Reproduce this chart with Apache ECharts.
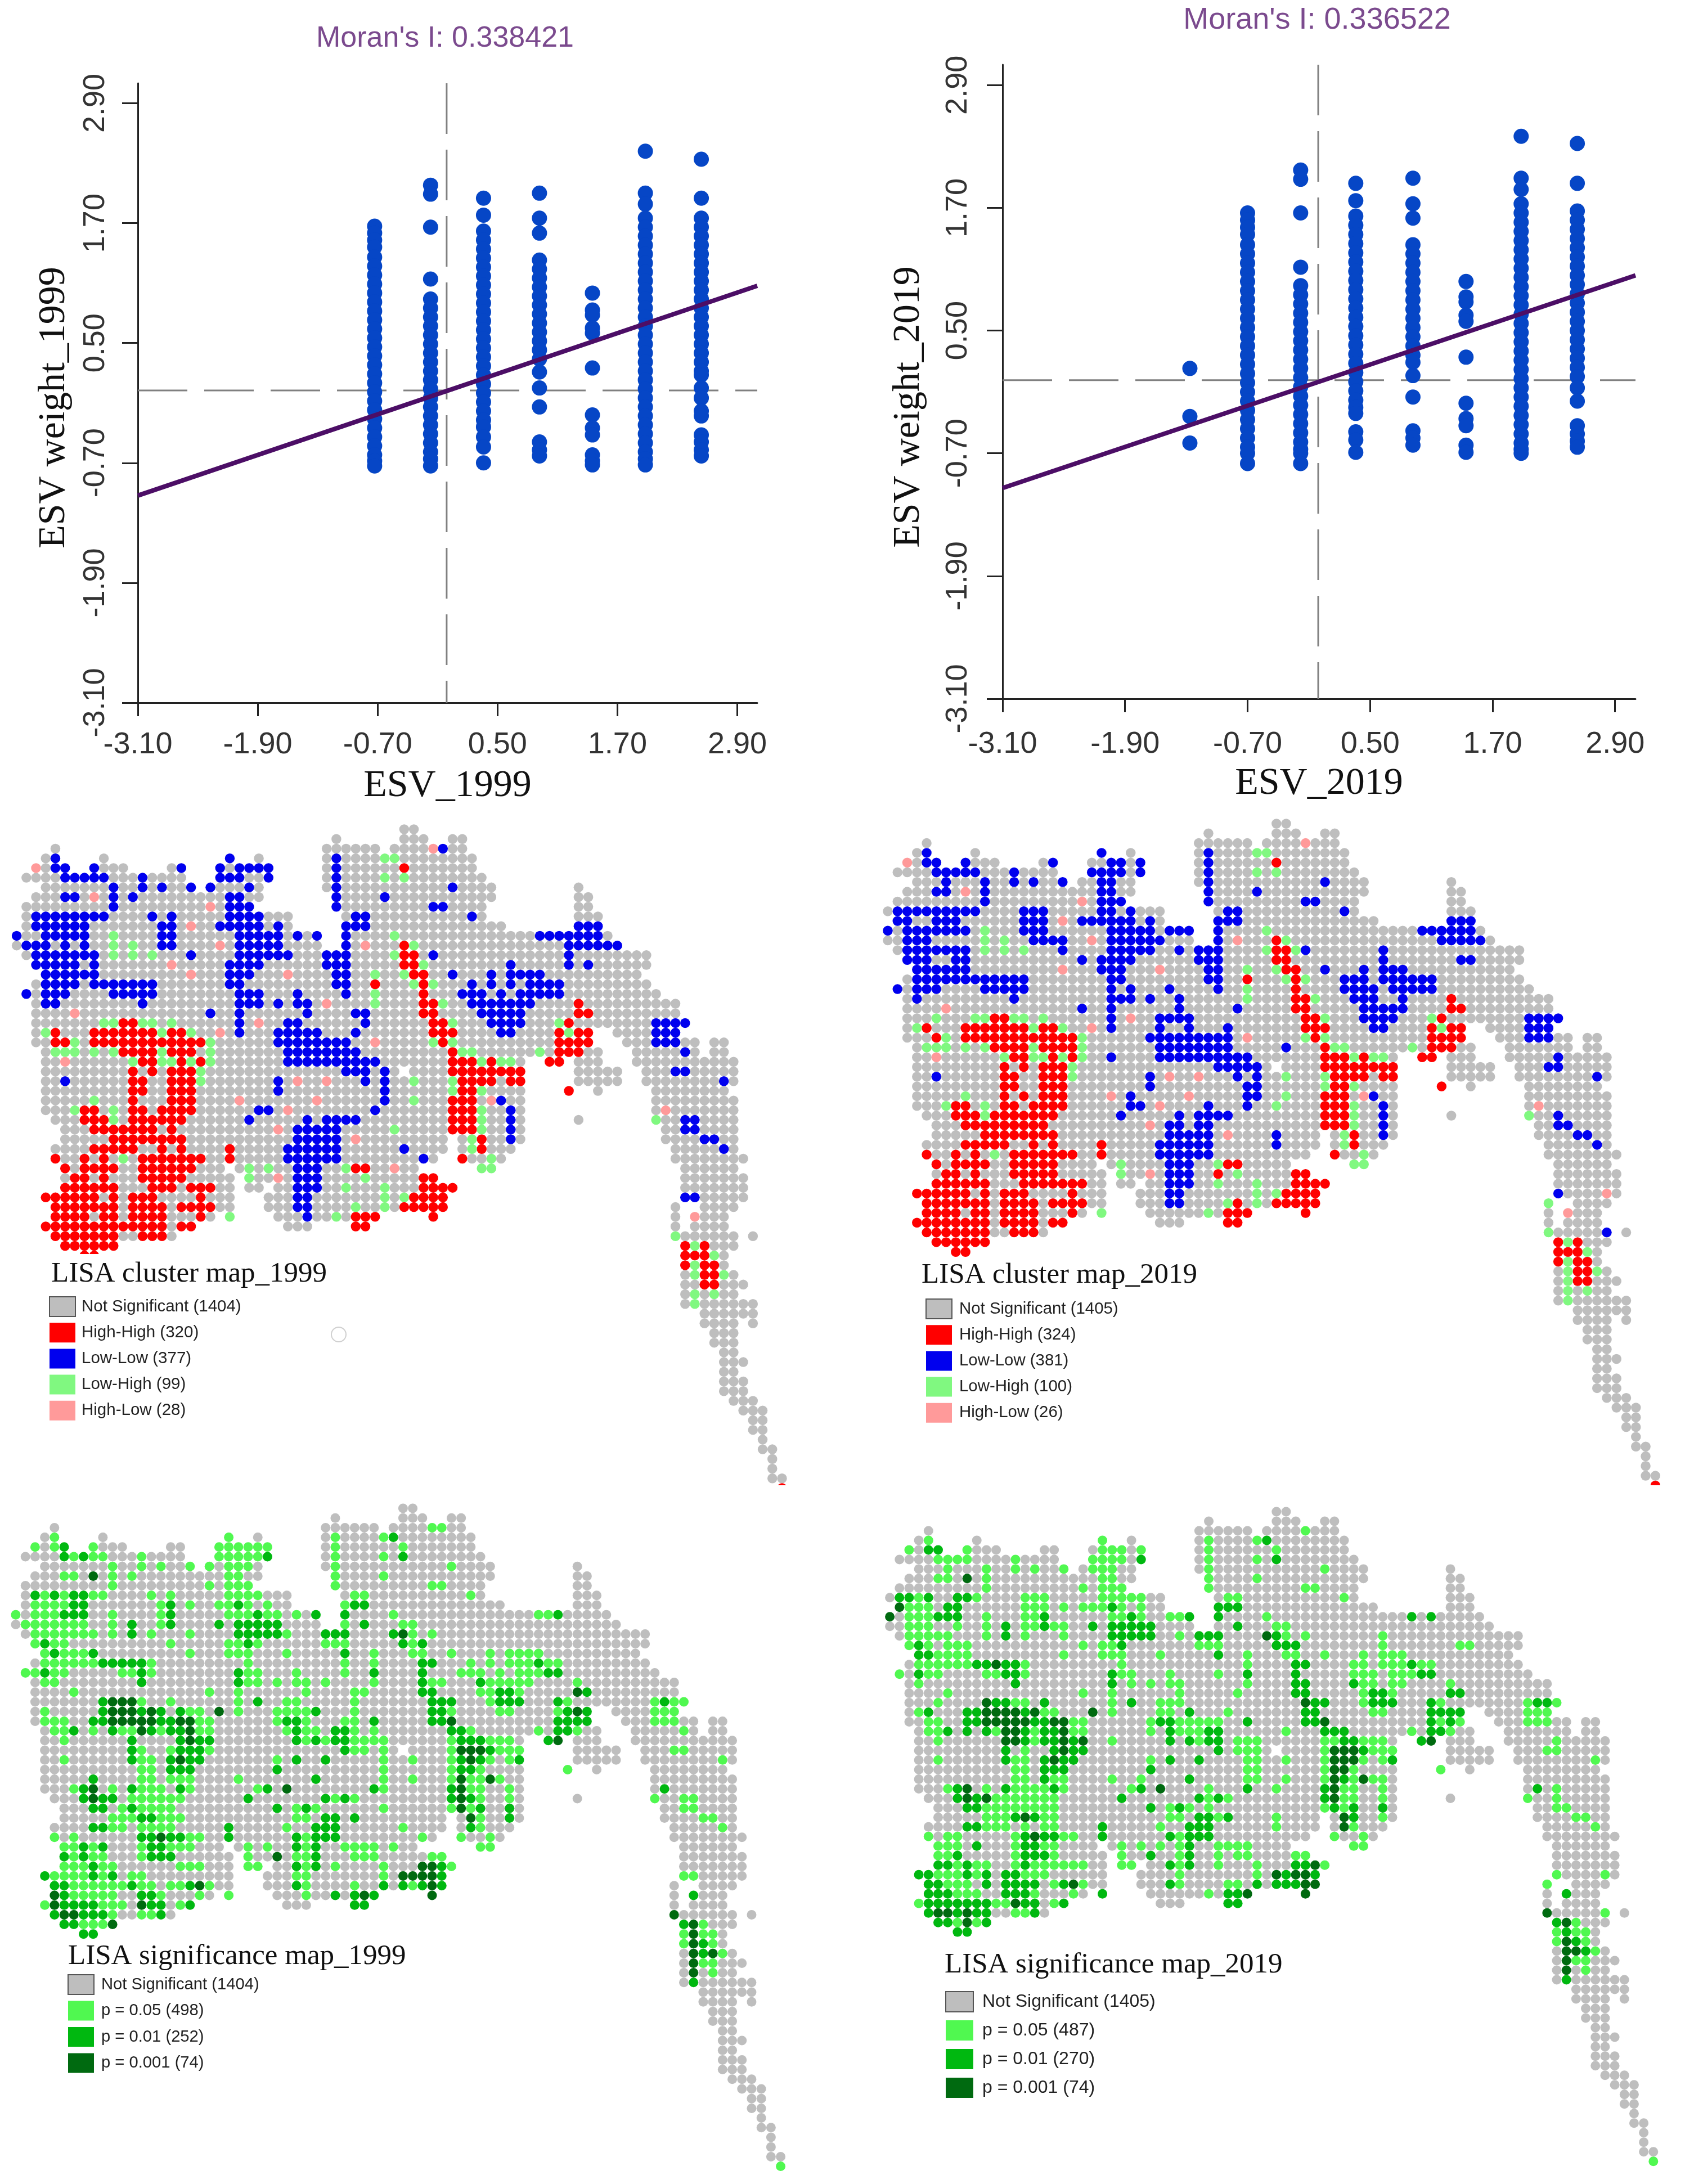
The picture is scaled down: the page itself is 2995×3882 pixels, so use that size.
<!DOCTYPE html>
<html>
<head>
<meta charset="utf-8">
<style>html,body{margin:0;background:#fff}#main{width:2995px;height:3882px}</style>
<script src="https://cdn.jsdelivr.net/npm/echarts@6/dist/echarts.min.js"></script>
</head>
<body>
<div id="main"></div>
<script>
// Moran scatter plots
var tickValues = [-3.1, -1.9, -0.7, 0.5, 1.7, 2.9];
var morans = ["Moran's I: 0.338421", "Moran's I: 0.336522"];
var esv1999 = [
	[-0.73, [1.67,1.6,1.53,1.46,1.36,1.27,1.18,1.09,1,0.91,0.82,0.73,0.64,0.55,0.46,0.37,0.28,0.19,0.1,0.01,-0.08,-0.17,-0.26,-0.35,-0.44,-0.53,-0.62,-0.68,-0.73]],
	[-0.17, [2.08,1.99,1.66,1.14,0.94,0.85,0.76,0.67,0.58,0.49,0.4,0.31,0.22,0.13,0.04,-0.05,-0.14,-0.23,-0.32,-0.41,-0.5,-0.59,-0.66,-0.73]],
	[0.36, [1.95,1.78,1.62,1.53,1.44,1.35,1.26,1.17,1.08,0.99,0.9,0.81,0.72,0.63,0.54,0.45,0.36,0.27,0.18,0.09,0,-0.09,-0.18,-0.27,-0.34,-0.44,-0.54,-0.7]],
	[0.92, [2,1.75,1.6,1.33,1.24,1.15,1.06,0.97,0.88,0.79,0.7,0.61,0.52,0.43,0.34,0.21,0.05,-0.14,-0.49,-0.57,-0.63]],
	[1.45, [1,0.83,0.78,0.65,0.6,0.25,-0.22,-0.35,-0.42,-0.62,-0.68,-0.72]],
	[1.98, [2.42,2,1.89,1.75,1.66,1.57,1.48,1.39,1.3,1.21,1.12,1.03,0.94,0.85,0.76,0.67,0.58,0.49,0.4,0.31,0.22,0.13,0.04,-0.05,-0.14,-0.23,-0.32,-0.41,-0.5,-0.59,-0.66,-0.72]],
	[2.54, [2.34,1.95,1.75,1.66,1.57,1.48,1.39,1.3,1.21,1.12,1.03,0.94,0.85,0.76,0.67,0.58,0.49,0.4,0.31,0.22,0.18,0.05,-0.05,-0.18,-0.23,-0.42,-0.49,-0.57,-0.63]]
];
var esv2019 = [
	[-1.265, [0.13,-0.34,-0.6]],
	[-0.7, [1.65,1.58,1.51,1.44,1.34,1.25,1.16,1.07,0.98,0.89,0.8,0.71,0.62,0.53,0.44,0.35,0.26,0.17,0.08,-0.01,-0.1,-0.19,-0.28,-0.37,-0.46,-0.55,-0.64,-0.7,-0.8]],
	[-0.18, [2.07,1.98,1.65,1.12,0.94,0.85,0.76,0.67,0.58,0.49,0.4,0.31,0.22,0.13,0.04,-0.05,-0.14,-0.23,-0.32,-0.41,-0.5,-0.59,-0.66,-0.7,-0.8]],
	[0.36, [1.94,1.77,1.62,1.53,1.44,1.35,1.26,1.17,1.08,0.99,0.9,0.81,0.72,0.63,0.54,0.45,0.36,0.27,0.18,0.09,0,-0.09,-0.18,-0.25,-0.31,-0.49,-0.57,-0.69]],
	[0.92, [1.99,1.74,1.6,1.34,1.25,1.16,1.07,0.98,0.89,0.8,0.71,0.62,0.53,0.44,0.35,0.26,0.19,0.06,-0.15,-0.48,-0.55,-0.62]],
	[1.44, [0.98,0.83,0.78,0.65,0.59,0.24,-0.21,-0.36,-0.43,-0.62,-0.69]],
	[1.98, [2.4,1.99,1.88,1.74,1.65,1.56,1.47,1.38,1.29,1.2,1.11,1.02,0.93,0.84,0.75,0.66,0.57,0.48,0.39,0.3,0.21,0.12,0.03,-0.06,-0.15,-0.24,-0.33,-0.42,-0.51,-0.6,-0.66,-0.7]],
	[2.53, [2.33,1.94,1.67,1.58,1.49,1.4,1.31,1.22,1.13,1.04,0.95,0.86,0.77,0.68,0.59,0.5,0.41,0.32,0.23,0.14,0.05,-0.06,-0.19,-0.43,-0.51,-0.58,-0.64]]
];
var fit1999 = [[-3.1, -1.027], [3.1, 1.073]];
var fit2019 = [[-3.1, -1.04], [3.1, 1.04]];
var mean1999 = [-0.009, 0.026];
var mean2019 = [-0.008, 0.015];

// grid cells of the study area, row index then column spans
var footprint = [
	"40-41","33 40-42 45-46","4 32-37 39-46","3-4 9 22 25 32-47","2-5 8-11 16-17 21-26 32-47",
	"1-17 21-26 32-48","3-18 20-25 32-49 58","2-25 33-49 58-59","1-24 33-48 58-59","1-28 34-48 58-60",
	"1-28 34-50 58-60","0-31 34-61","0-31 34-62","1-65","2-65",
	"3-64","2-65","1-66","2-68","2-68",
	"2-69","2-59 62-68","2-59 63-70 72-73","3-60 64-70 72-73","3-52 55-56 58-60 64-74",
	"3-39 41-52 58-62 65-74","3-52 58-62 65-74","3-52 57 60 66-73","3-52 66-74","3-52 66-74",
	"4-52 58 66-74","5-52 67-74","5-44 46-52 67-74","4-44 46-51 68-74","4-43 46-50 68-75",
	"5-21 23-41 48-49 69-74","5-22 24-43 69-75","5-22 24-25 27-45 69-75","3-22 26-44 69-75","4-22 26-44 68 71-74",
	"4-20 22 27-37 43 68 70-73","3-18 28-30 35-36 68 70-73","4-16 68-74 76","5-10 69-74","7-8 69-73",
	"69-73","69-74","69-75","69-74","69-76",
	"71-76","71-74 76","72-74","72-74","73-74",
	"73-75","73-74","73-75","73-75","74-76",
	"75-77","76-77","76-77","77","77-78",
	"78","78","78-79","79"
];

// LISA classes per cell, "row: class+columns"
var cluster1999 = [
	"2: P43 B44","3: B4 B22 B33 G38-39","4: P2 B4-5 B8 B17 B21 B23-26 B33 R40","5: B5-9 B13 B21-23 B26 B33 G38 G40",
	"6: B10 B13 B15 B18 B20 B24 B33 B45","7: B5-6 P8 B10 B12 B22-23 B33 B38","8: B10 P20 B22-24 B33 B43-44",
	"9: B2-9 B14 B16 B22-25 B35-36 B47","10: B2-7 B15-16 P18 B21-25 B27 B34-36 B58-60",
	"11: B0 B3-7 G10 B15-16 B23-27 B29 B31 B34 G39 B54-60","12: B1-3 B5 B7 G10 G12 B15-16 P21 B23-27 B34 P36 R40 G41 B57-62",
	"13: B2-8 G10 G12 G14 B18 B23-28 B32-34 G39 R40-41 B43 B57","14: B2-6 B8 P16 B22-25 B32-34 R40-41 G42 B51 B57 B59",
	"15: B3-8 P18 B22-24 P28 B33-34 G37 G40 R41-42 B45 B49 B51-54","16: B3-6 B8-14 B22-23 B33-34 R37 G41 R42 G43 B47 B49 B51 B53-56",
	"17: B1 B3-5 B10-14 B23-25 B29 B34 G37 R42 B46-48 B50 B52-56","18: B3-4 B13 B23-25 B27 B29-30 P32 G37 R42-43 G44 B47-53 R58",
	"19: P6 B20 B23 B30 B35-36 R42-43 B48-52 R58-59","20: G9-10 R11-12 G13-14 G16 B23 P25 B28-29 B36 R43-44 G45 B49-52 G56 R57 B66-69",
	"21: G3 R4 R8-14 G15 R16-17 G18 P21 B23 B27-31 B35 R43-45 B50-51 R56 G57 R58-59 B66-68","22: R4-5 G6 R8-19 G20 B27-34 P37 G43 R44 G45 R56-59 B66-68",
	"23: G4-6 G8 G10 R11-14 G15 R16-18 G20 B28-35 R45 G46-47 G54 R56-58 B69","24: P5 G12 R13-14 G15-16 R17 G18 R19 G20 B28-37 R45-47 G48 R49 G50-51 R55-56",
	"25: R12 R14 R16-18 G19 B34-36 B38 R45-52 B68-69","26: B5 R12-13 R16-18 G19 B27 P29 P32 B36 B38 G41 G45 R46-49 R51-52 B73",
	"27: R12-13 R16-18 B27 B38 G45 R46-47 G48 R57","28: G8 R12 R16-18 P23 P31 B38 G41 R45-47 P49 B50",
	"29: G6 R7-8 G10 R12-13 R15-18 B25-26 P28 B37 R45-47 G48 B51 P67","30: R7-9 G10 R12-17 B24 B30 B32-35 R45-47 G48 B51 G66 B69-70",
	"31: R8-14 R16 P27 B29-33 G39 R45-47 G48 B51 B69-70","32: R10-17 B29-33 P35 G47 R48 B51 B71-72",
	"33: R8-12 R15 R17 R22 B28-33 B40 G47 R48 B73","34: R4 R7 R9 G11 R13-19 R22 B28-33 B42 R46 G49",
	"35: R5 R7-10 R13-18 G24 G26 B29-31 G34 R35-36 P39 G48-49","36: R6-7 R9 R13-17 G24 P27 B29-31 G36 R42-43",
	"37: R5-10 R14-16 R18-20 B29-31 G34 G38 R42-45","38: R3-8 R10 R12-14 R19 B29-30 G38 G40 R41-44 B69-70",
	"39: R4-10 R12-15 R17-20 B29-30 G35 G38 R40-44","40: R4-7 R9-10 R12-15 R19 G22 B30 G33 R35-37 R43 P70",
	"41: R3-15 R17-18 R35-36","42: R4-10 R13-15 G68","43: R5-10 R69 G70 R71","44: R7-8 R69-71 G72",
	"45: R69 G70 R71-72","46: G70 R71-72 G73","47: R71-72","48: G70 G72","49: G70","68: R79"
];
var cluster2019 = [
	"2: P43","3: B4 B22 B33 G38-39","4: P2 B4-5 B8 B17 B23-24 B26 B33 R40","5: B5-9 B13 B21-24 B26 B33 G38 G40",
	"6: B6 B10 B13 B15 B18 B22-23 B33 B45","7: B5-6 P8 B10 B22-23 B33 B38","8: B10 P20 B22-24 B33 B43-44",
	"9: o0 B1-9 B14-16 B22-23 B25 B35-36 B47","10: B1-2 B5-7 B14-16 P18 B20-25 B27 B34-36 B58-60",
	"11: B0 B2-8 G10 B14-16 B23-27 B29-31 B34 G39 B55-60","12: B2-4 G10 G12 B15-18 P21 B23-28 B34 P36 R40 G41 B57-61",
	"13: B2-6 B7-8 G10 G12 G14 B18 B23-27 B30 B32-34 G39 R40-41 G42 B43 B51","14: B2-4 B7-8 B20 B22-25 B32-34 R40-41 B51 B59-60",
	"15: B3-8 P18 B22-24 P28 B33-34 G37 G40 R41-42 B45 B49 B51-53","16: B3-14 B23-24 B33-34 R37 G41 R42 G43 B47-49 B51-56",
	"17: B1 B3-5 B10-14 B23 B25 B29 B34 G37 R42 B47-50 B52-56","18: B3 B13 B23-25 B27 B30 G37 R42-43 G44 B48-50 B53 R58",
	"19: P6 B20 B23 B30 B36 R42-43 B49-53 R58-59","20: G5 G9-10 R11-12 G13-14 G16 B23 P25 B28-31 R43-44 G45 B49-52 G56 R57 B66-69",
	"21: G3 R4 R8-14 G15 R16-17 G18 P21 B23 B28 B31 B35 R43-45 B50-51 R56 G57 R58-59 B66-68","22: R5 G6 R8-19 G20 B27-35 P37 G43 R44 G45 R56-59 B66-68",
	"23: G4-6 G8 G10 R11-14 G15 R16-19 G20 B28-35 B41 R45 G46-47 G54 R56-58","24: P5 G12 R13-14 G15-16 R17 G18 R19 G20 B23 B28-37 R45-47 G48 R49 G50-51 R55-56 B69",
	"25: R12 R14 R16-18 G19 B34-38 R45-52 B68-69","26: B5 R12-13 R16-18 G19 B27 P29 P32 B36 B38 G41 G45 R46-49 R51-52 B73",
	"27: R12-13 R16-18 B27 B37-38 G45 R46-47 G48 R57","28: G8 R12 R14 R16-18 P23 B25 P31 B37-38 G41 R45-47 P49 B50",
	"29: G6 R7-8 G10 R12-13 R15-18 B25-26 P28 B33 B37 G40 R45-47 G48 B51 P67","30: R7-9 G10 R11-17 B24 B30 B32-35 R45-47 G48 B51 G66 B69",
	"31: R8-16 P27 B29-30 B32-33 R45-47 G48 B51 B69-70","32: R10-17 B29-33 P35 B40 G47 R48 B51 B71-72",
	"33: R8-12 R15 R17 R22 B28-33 B40 G47 R48 B73","34: R4 R7 R9 G11 R13-19 R22 B28-33 R46 G49",
	"35: R5 R7-10 R13-17 G24 B29-31 G34 R35-36 G48-49","36: R6-7 R9 R13-17 G24 P27 B29-31 R34 G36 R42-43",
	"37: R5-10 R14-20 B29-31 G34 G38 R42-45","38: R3 R4-8 R10 R12-14 R19 B29-30 G38 G40 R41-44 B69 P74",
	"39: R4-10 R12-15 R17-20 B29-30 G35 R36 G38 R40-44 G68","40: R4-7 R9-10 R12-15 R19 G22 G33 R35-37 R43 P70",
	"41: R3-10 R12-15 R17-18 R35-36","42: R4-10 R13-15 G68 B74","43: R5-10 R69 G70 R71","44: R7-8 R69-71 G72",
	"45: R69 G70 R71-72","46: G70 R71-72 G73","47: G70 R71-72","48: G70 G72","49: G70","68: R79"
];
var signif1999 = [
	"2: A43-44","3: A4 A22 A33 A38 M39","4: A2 A4 M5 A8 A21-26 A33 A40","5: M5 A6 M7 A8-9 A13 A21-25 M26 A33 A38 M40",
	"6: A10 A13 A15 A18 A20 A22-24 A33 A45","7: A5-6 D8 A10 A12 A22-23 A33 A38","8: A10 A20 A22-24 A33 A43-44",
	"9: M2 A3 M4 A5 M6-7 A8-9 A14 A16 A22-25 A35-36 A47","10: A2-5 M6-7 A15 M16 A18 A21-22 M23 A24 A26 A34 M35-36",
	"11: A0 A2-4 M5-7 A10 A15 M16 A22-24 M25 A26-27 A29 M31 M34 A39 A54-55 M56","12: A1-7 A10 M12 A15 M16 M21 M23-27 A34 M36 A40-41",
	"13: A2-8 A10 M12 A14 A18 M23-27 A28 M32-34 M39 D40 A41 A43","14: A2 M3 A4-5 A16 A22-23 M24 A25 A32-34 M40 A41 M42",
	"15: A3 M4 A5-7 M8 A18 A22-24 A28 M34 A37 A41-42 A45 A49 A51-54","16: A3-8 M9-13 A14 A24 A34 A37 M42-43 A47 A49 A51-53 M54 A55-56",
	"17: A1-2 M3 A4-5 A11-12 M13 A14 M23 A24-25 A29 A34 M37 M42 A46-48 A50 A52-54 M55-56","18: A3-4 M13 M23 A24-25 A27 A29-30 A32 A37 M42 A43-44 M48 A49-53 A58",
	"19: A6 A20 A23 A30 A35-36 M42-43 A48-49 M50-51 A52 D58 M59","20: M9 D10-12 A13 A16 A23 M25 A28-29 A35 M43-45 A49 M50-52 M56 A57 A66 M67 A68-69",
	"21: A3 M9 D10-12 M13 D14 M15 M17 A18-19 D21 A23 A27-30 M31 A35 M43-44 A45 A50-51 A56 M57 D58 M59 A66-68","22: A3-5 M8-9 D10-14 M15-16 D17-18 A19-20 A27 M28-29 A30 A34-35 M37 M43-44 D45 M56-59 A66-68",
	"23: A4-5 M6 A8 M10 A11-12 D13 M14 A15 M16-17 D18 A19-20 A28 M29 A30-31 M33-34 A35 A37 M45-46 A47 A54 M56-57 A58 A69","24: A5 M12 M17 D18 M19-20 M29 A30 M31 A32 M33-34 A35-38 A45 M46-48 A49-51 M55 D56",
	"25: M12 A13 A16 M17-19 A20 M34 A35-36 A38 A45 D46-48 M49 A50-52 A68-69","26: A5 M12 A13-14 M16 D17 M18-19 A27 M29 M32 A38 A41 A45 M46 D47 M48 A49 A51 M52 A73",
	"27: A13-14 M16-18 M27 A38 A45 M46-47 A48 A57","28: M8 A13-14 A16-18 A23 M31 A38 A41 A45 D46 A47-48 D49 A50",
	"29: A6 M7 D8 A10 M12 A13-15 M17 A18 A25 M26 D28 M37 A38 M45 D46 A47-48 A51 M67","30: M7 D8 M9-10 A12-17 M24 M32 A33 M34 A35 M45 D46 M47 A48 A51 A66 A69-70",
	"31: M8-9 A11 M12 A13-16 M27 A29 M30 A31 A38 A45 D46 A47 M48 M51 A69-70","32: A10-12 M13-14 A15-17 A29-30 M32-33 M35 D47 A48 M51 A71-72",
	"33: M8-9 A10-11 A13-16 M22 A28 M31-33 A40 M47 A48 A73","34: A4 A6 M13-14 D15 M16-17 A18-19 M22 M29 A30 M31-33 A42 A46 A49",
	"35: A5-6 M7 A8 M9 A13 M14-15 A16-18 A24 A26 M29 A30 M31 A34-37 A39 A48-49","36: M5 A6 M7 A8-9 A13 M14-16 A24 D27 A29-30 M31 A35-37 A43-44",
	"37: A5-7 M8 A9-10 A17-19 A24-25 M29 A30 M31 A33 A38 D42-43 M44 A45","38: M3 A4-7 M8 A9 M10 A12-13 A29-30 A38 D40-43 M44 A69-70",
	"39: M4-5 A6-11 M12 A13-14 A16-17 M18 D19 A20 M29 A30 A35 M38 M40 A41 M42 D43 M44","40: D4 M5 A6-10 M13-14 A15 A19 A22 A30 M33 M35 D36 M37 D43 M70",
	"41: A3 D4 M5-8 A9-11 D13 M14-15 A17 M18 M35-36","42: M4 D5-6 M7-9 A10 A13-14 M15 D68","43: M5-6 A7-9 D10 M69 D70 A71","44: M7-8 A69 D70 A71-72",
	"45: A69 D70 M71 A72","46: D70 M71 D72 A73","47: D70 A71-72","48: D70 A72","49: M70","68: A79"
];
var signif2019 = [
	"2: A43","3: A4 A22 A33 A38 M39","4: A2 M4-5 A8 A22-24 A26 A33 A40","5: A5-8 A13 A21-24 M26 A33 A38 M40",
	"6: A6 A10 A13 A15 A18 A21-23 A33 A45","7: A5-6 D8 A10 A22-23 A33 A38","8: A10 A20 A22-24 A33 A43-44",
	"9: o0 M1-2 A3 M4 M7-8 A9 A14-16 A22-26 A35-36 A47","10: D1 A2-4 M6-7 A14-16 A18 A20-22 M23 A24 A26 M34-36",
	"11: D0 A2-4 M5-7 A10 A14-15 M16 A23-24 M25 A26 A29-30 M31 M34 A39 M54 M56","12: A2-4 A7 A10 M12 A14-15 M16 A17-18 M21 M23-27 M36 A40-41",
	"13: A2-6 A10 M12 A14 A18 M23-27 A30 M32-34 D39 M40 A41 A43 A51","14: A2 M3 A4 A6-8 A20 A22-23 M24 A32-34 M40-42 A51 A59-60",
	"15: M3-4 A5-8 A18 A22-24 A28 M34 A37 A41-42 A45 A49 A51-53","16: A3-8 M9-10 D11 M12-13 A14 A24 A37 M42-43 A48-49 A51-53 M54 A55-56",
	"17: A1 M3 A4-5 A10-11 M12-13 A14 M23 A24-25 A29 A34 M37 M42 A48-50 A52-54 M55-56","18: A3 M13 M23 A25 A27 A29-30 A37 M42-43 M48 A49-50 A52-53 A58",
	"19: A6 A20 A23 A30 A36 M42-43 A49 M50-51 A52 M58-59","20: A5 D10 M11-12 A13-14 M16 A23 M25 A28-30 D43 M44-45 A49 M50-52 M56 A57 A66 M67-68 A69",
	"21: A3 M4 M8-9 D10-13 M14 D15 A16-17 D21 A23 A28-29 M31 A35 M43-44 A50-51 M56-59 A66-68","22: A4-5 M8-9 D10-14 M15-16 D17-18 A19-20 A27 M28-29 A30-34 M37 M43-44 D45 M56 A57 M58 A59 A66-68",
	"23: A4-5 M6 M8 M10 A11 D12-13 M14 A15 M16-17 D18 A19-20 A27 M29 A30-32 M33-34 A41 M45-47 A54 M56-57 A58","24: A5 D12-13 M14 A15 M16-17 D18 M19 D20 A23 M29 M31 A32 M33-34 A36-38 A45-46 M47-48 A49-51 M55 D56 A69",
	"25: M12 A14 M17 D18 M19-20 M34 A36-38 A45 D46-48 M49 A50-52 A68-69","26: A5 M12 A13-14 M16 D17 M18-19 A27 M29 M32 A37-38 A41 A45 D46-47 D48 A49 A51 M52 A73",
	"27: A13-14 M16-18 M27 A37-38 A45 D46-47 A48 A57","28: A13-14 M16 A17-18 A23 A26 M31 A37-38 A41 A45 D46 M47 A48 D49 A50-51",
	"29: A6 M7 D8 A10 M12 A13-16 M17 A18 A25 M26 D28 A33 M37 A40 M45 D46 A47-48 A51 M67 A69","30: M7 D8 M9 D10 A11-17 M24 M32 A33 M34 A35 M45 D46 A47-48 A51 A66 A69",
	"31: M8-9 A10-17 M27 A29 M30 A31 A33 A45 M46 A47 M48 M51 A69-70","32: A10-12 M13 D14 M15 A16-17 A29-30 M32-33 A34 M35 A40 D47 M48 A51 A71-72",
	"33: M8-9 A10-12 A14 A16-17 M22 A28 M31-33 A40 D47 A48 A73","34: A4 A6-7 A13 M14 D15 M16-17 A18-19 M22 M29 A30 M31-33 A46 A49",
	"35: A5-7 M9 A13 M14-15 A16-17 A24 A26 A28 A30 M31 A34-37 A48-49","36: A5-6 M7 A13 M14-16 A17 A24 M27 A30 M31 A34 A36-37 A42-43",
	"37: M5-6 A7 M8 A9-10 A13 M14 A15-20 A24-25 M29 A30 M31 A34 A38 M42-43 D44 A45","38: M3-4 A5-7 M8 A9 M10 M12-13 A14-16 A30 A38 D40 M41 D42-43 M44 A69 A74",
	"39: M4-5 A6-8 M10 M12-15 A17 M18 D19 A20 M29 A30 A35-36 M38 M40-42 D43-44 A68","40: M4-6 A7-9 M12-14 A15 A19 M22 A33 M35-36 D37 D43 M70",
	"41: A3 M4-10 A11-12 D13 M14-15 A17 M18 M35-36","42: M4 D5-6 M7 D8 M9-10 A13-14 M15 D68 A74","43: M5-6 A7 D8 A9 M10 M69 D70 A71","44: M7-8 A69 M70 A71-72",
	"45: A69 D70 M71 A72","46: D70-71 M72 A73","47: D70 A71-72","48: D70 A72","49: M70","68: A79"
];

// class key, colour
var clusterColors = {o:'#bebebe', R:'#ff0000', B:'#0000ee', G:'#80f880', P:'#ff9a9a'};
var signifColors = {o:'#bebebe', A:'#50f850', M:'#00b810', D:'#006a10'};

var clusterNames1999 = ['Not Significant (1404)','High-High (320)','Low-Low (377)','Low-High (99)','High-Low (28)'];
var clusterNames2019 = ['Not Significant (1405)','High-High (324)','Low-Low (381)','Low-High (100)','High-Low (26)'];
var signifNames1999 = ['Not Significant (1404)','p = 0.05 (498)','p = 0.01 (252)','p = 0.001 (74)'];
var signifNames2019 = ['Not Significant (1405)','p = 0.05 (487)','p = 0.01 (270)','p = 0.001 (74)'];

function spanEach(text, fn){
	var m = /^(\d+)(?:-(\d+))?$/.exec(text);
	var a = +m[1], b = m[2] ? +m[2] : a;
	for (var c = a; c <= b; c++) fn(c);
}

function buildCells(overlay){
	var cells = {};
	footprint.forEach(function(row, r){
		row.split(' ').forEach(function(s){
			spanEach(s, function(c){ cells[r + ',' + c] = 'o'; });
		});
	});
	overlay.forEach(function(line){
		var p = line.split(': ');
		p[1].split(' ').forEach(function(tok){
			spanEach(tok.slice(1), function(c){ cells[p[0] + ',' + c] = tok[0]; });
		});
	});
	var out = {};
	Object.keys(cells).forEach(function(k){
		var rc = k.split(',');
		(out[cells[k]] = out[cells[k]] || []).push([+rc[1], +rc[0]]);
	});
	return out;
}

var option = {
	animation: false,
	backgroundColor: '#fff',
	grid: [], xAxis: [], yAxis: [], series: [], graphic: []
};

function addScatterPanel(o){
	var idx = option.grid.length;
	option.grid.push({left: o.left, top: o.top, width: o.width, height: o.height});
	var labelStyle = {fontFamily: 'Liberation Sans', fontSize: 54, color: '#333',
		customValues: tickValues, formatter: function(v){ return v.toFixed(2); }};
	var nameStyle = {fontFamily: 'Liberation Serif', fontSize: 68, color: '#111'};
	var lineStyle = {onZero: false, lineStyle: {color: '#222', width: 3}};
	option.xAxis.push({
		gridIndex: idx, type: 'value', min: -3.1, max: 3.1,
		name: o.xName, nameLocation: 'middle', nameGap: o.xNameGap, nameTextStyle: nameStyle,
		axisLine: lineStyle, splitLine: {show: false},
		axisTick: {length: 24, lineStyle: {color: '#222', width: 3}, customValues: tickValues},
		axisLabel: Object.assign({margin: o.xMargin}, labelStyle)
	});
	option.yAxis.push({
		gridIndex: idx, type: 'value', min: -3.1, max: 3.1,
		name: o.yName, nameLocation: 'middle', nameGap: o.yNameGap, nameRotate: 90,
		nameTextStyle: Object.assign({padding: [0, o.yNamePad, 0, 0]}, nameStyle),
		axisLine: lineStyle, splitLine: {show: false},
		axisTick: {length: 28, lineStyle: {color: '#222', width: 3}, customValues: tickValues},
		axisLabel: Object.assign({margin: o.yMargin, rotate: 90}, labelStyle)
	});
	var pts = [];
	o.columns.forEach(function(col){
		col[1].forEach(function(y){ pts.push([col[0], y]); });
	});
	option.series.push({type: 'scatter', xAxisIndex: idx, yAxisIndex: idx, data: pts, symbolSize: 27,
		itemStyle: {color: '#0646c6', opacity: 1}, silent: true, z: 3});
	option.series.push({type: 'line', xAxisIndex: idx, yAxisIndex: idx, showSymbol: false, silent: true, z: 2,
		data: [[-3.1, o.mean[1]], [3.1, o.mean[1]]],
		lineStyle: {color: '#808080', width: 3, type: [88, 30]}});
	option.series.push({type: 'line', xAxisIndex: idx, yAxisIndex: idx, showSymbol: false, silent: true, z: 2,
		data: [[o.mean[0], 3.1], [o.mean[0], -3.1]],
		lineStyle: {color: '#808080', width: 3, type: [90, 28]}});
	option.series.push({type: 'line', xAxisIndex: idx, yAxisIndex: idx, showSymbol: false, silent: true, z: 4,
		data: o.fit, lineStyle: {color: '#4c0e66', width: 8}});
	option.graphic.push({type: 'text', silent: true, style: {x: o.titleX, y: o.titleY, text: o.title,
		fontFamily: 'Liberation Sans', fontSize: o.titleFont, fill: '#7b4a8e', align: 'center', verticalAlign: 'middle'}});
}

function addMapPanel(o){
	var idx = option.grid.length;
	option.grid.push({left: o.x0, top: o.y0, width: 79 * o.sx, height: 68 * o.sy});
	option.xAxis.push({gridIndex: idx, type: 'value', min: 0, max: 79, show: false});
	option.yAxis.push({gridIndex: idx, type: 'value', min: 0, max: 68, inverse: true, show: false});
	var cells = buildCells(o.overlay);
	Object.keys(o.colors).forEach(function(key){
		option.series.push({type: 'scatter', xAxisIndex: idx, yAxisIndex: idx, data: cells[key] || [],
			symbolSize: o.dot, itemStyle: {color: o.colors[key], opacity: 1}, silent: true, z: key === 'o' ? 2 : 3});
	});
	option.graphic.push({type: 'text', silent: true, style: {x: o.titleX, y: o.titleY, text: o.title,
		fontFamily: 'Liberation Serif', fontSize: 51, fill: '#111', align: 'left', verticalAlign: 'middle'}});
	Object.keys(o.colors).forEach(function(key, i){
		var y = o.legTop + i * o.legStep;
		option.graphic.push({type: 'rect', silent: true, shape: {x: o.legX, y: y, width: o.legW, height: o.legH},
			style: {fill: o.colors[key], stroke: i === 0 ? '#555' : null, lineWidth: 2}});
		option.graphic.push({type: 'text', silent: true, style: {x: o.legX + o.legW + o.legPad, y: y + o.legH / 2, text: o.names[i],
			fontFamily: 'Liberation Sans', fontSize: o.legFont, fill: '#222', align: 'left', verticalAlign: 'middle'}});
	});
}

addScatterPanel({left: 245, top: 148, width: 1101, height: 1101, columns: esv1999, fit: fit1999, mean: mean1999,
	xName: 'ESV_1999', yName: 'ESV weight_1999', xNameGap: 114, yNameGap: 115, yNamePad: 52, xMargin: 48, yMargin: 48,
	title: morans[0], titleX: 791, titleY: 69, titleFont: 52});
addScatterPanel({left: 1782, top: 115, width: 1125, height: 1127, columns: esv2019, fit: fit2019, mean: mean2019,
	xName: 'ESV_2019', yName: 'ESV weight_2019', xNameGap: 117, yNameGap: 133, yNamePad: 90, xMargin: 54, yMargin: 52,
	title: morans[1], titleX: 2341, titleY: 36, titleFont: 54});

addMapPanel({overlay: cluster1999, colors: clusterColors, names: clusterNames1999, x0: 29.6, y0: 1474, sx: 17.22, sy: 17.22, dot: 17.5,
	title: 'LISA cluster map_1999', titleX: 91, titleY: 2265,
	legX: 88, legTop: 2305, legStep: 46.2, legW: 46, legH: 35, legPad: 11, legFont: 29.5});
addMapPanel({overlay: cluster2019, colors: clusterColors, names: clusterNames2019, x0: 1578, y0: 1464, sx: 17.27, sy: 17.3, dot: 17.5,
	title: 'LISA cluster map_2019', titleX: 1638, titleY: 2267,
	legX: 1646, legTop: 2309, legStep: 46.2, legW: 46, legH: 35, legPad: 13, legFont: 29.4});
addMapPanel({overlay: signif1999, colors: signifColors, names: signifNames1999, x0: 28, y0: 2681, sx: 17.21, sy: 17.2, dot: 17,
	title: 'LISA significance map_1999', titleX: 121, titleY: 3478,
	legX: 121, legTop: 3510, legStep: 46.5, legW: 46, legH: 35, legPad: 13, legFont: 29.2});
addMapPanel({overlay: signif2019, colors: signifColors, names: signifNames2019, x0: 1581.6, y0: 2687, sx: 17.18, sy: 16.98, dot: 17,
	title: 'LISA significance map_2019', titleX: 1679, titleY: 3493,
	legX: 1681, legTop: 3540, legStep: 51, legW: 49, legH: 36, legPad: 16, legFont: 32});

// faint stray circle left of the 1999 legend
option.graphic.push({type: 'circle', silent: true, shape: {cx: 602, cy: 2372, r: 13},
	style: {fill: null, stroke: '#d0d0d0', lineWidth: 2}});
// the map pictures are cropped here in the original
option.graphic.push({type: 'rect', silent: true, z: 100, shape: {x: 120, y: 2229, width: 70, height: 16}, style: {fill: '#fff'}});
option.graphic.push({type: 'rect', silent: true, z: 100, shape: {x: 1360, y: 2640, width: 60, height: 20}, style: {fill: '#fff'}});
option.graphic.push({type: 'rect', silent: true, z: 100, shape: {x: 2920, y: 2640, width: 50, height: 20}, style: {fill: '#fff'}});

var myChart = echarts.init(document.getElementById('main'));
myChart.setOption(option);
</script>
</body>
</html>
